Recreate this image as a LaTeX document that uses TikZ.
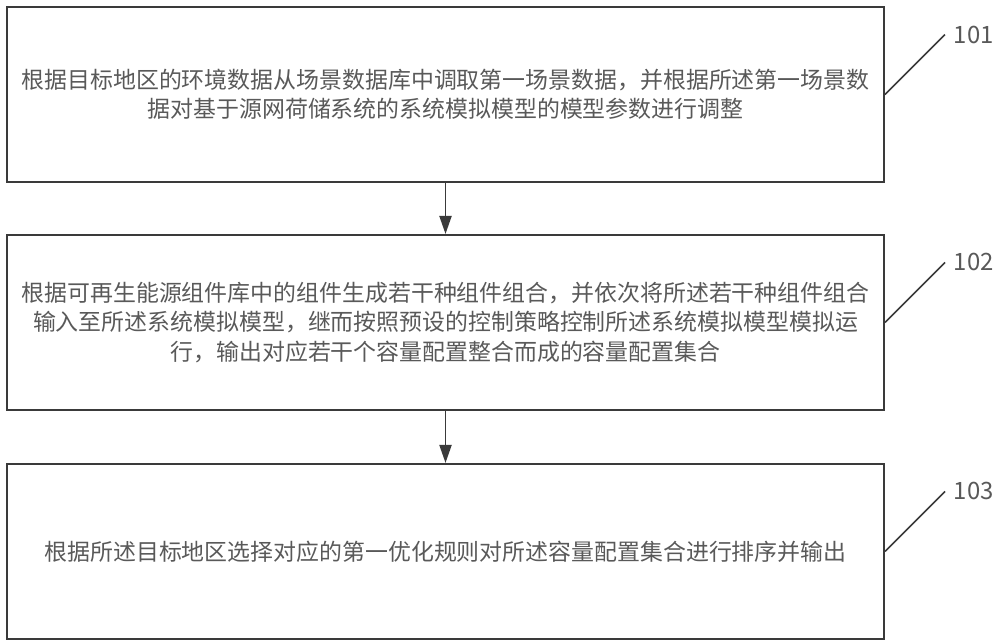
\documentclass[tikz,border=0pt]{standalone}
\usepackage{fontspec}
\newfontfamily\cjk{Noto Sans CJK SC}
\usepackage{tikz}
\usetikzlibrary{positioning,arrows.meta,calc}
\usepackage{xcolor}
\definecolor{txtgray}{HTML}{595959}
\definecolor{linegray}{HTML}{3A3A3A}

\begin{document}
\begin{tikzpicture}[
  stepbox/.style={draw=linegray,line width=1.4pt,minimum width=21.925cm,minimum height=4.375cm,
    align=center,text=txtgray,font=\cjk\fontsize{16.3pt}{20.8pt}\selectfont},
  lead/.style={draw=linegray,line width=1.1pt},
  tag/.style={text=txtgray,font=\cjk\fontsize{17pt}{20pt}\selectfont,anchor=west,xshift=0.1cm},
  flow/.style={draw=linegray,line width=1.4pt,-{Triangle[length=0.45cm,width=0.3cm]}}
]
\useasboundingbox (0,0) rectangle (25,-16.075);
\node [stepbox] (S1) at (11.1375,-2.3625)
  {根据目标地区的环境数据从场景数据库中调取第一场景数据，并根据所述第一场景数\\
   据对基于源网荷储系统的系统模拟模型的模型参数进行调整};
\node [stepbox,below=1.275cm of S1] (S2)
  {根据可再生能源组件库中的组件生成若干种组件组合，并依次将所述若干种组件组合\\
   输入至所述系统模拟模型，继而按照预设的控制策略控制所述系统模拟模型模拟运\\
   行，输出对应若干个容量配置整合而成的容量配置集合};
\node [stepbox,below=1.3cm of S2] (S3)
  {根据所述目标地区选择对应的第一优化规则对所述容量配置集合进行排序并输出};
\draw [flow] (S1) -- (S2);
\draw [flow] (S2) -- (S3);
\coordinate (C1) at ($(S1.east)+(1.5,1.5)$);
\coordinate (C2) at ($(S2.east)+(1.5,1.5)$);
\coordinate (C3) at ($(S3.east)+(1.5,1.5)$);
\draw [lead] (S1.east) -- (C1);
\draw [lead] (S2.east) -- (C2);
\draw [lead] (S3.east) -- (C3);
\node [tag] (L1) at (C1) {101};
\node [tag] (L2) at (C2) {102};
\node [tag] (L3) at (C3) {103};
\end{tikzpicture}
\end{document}
